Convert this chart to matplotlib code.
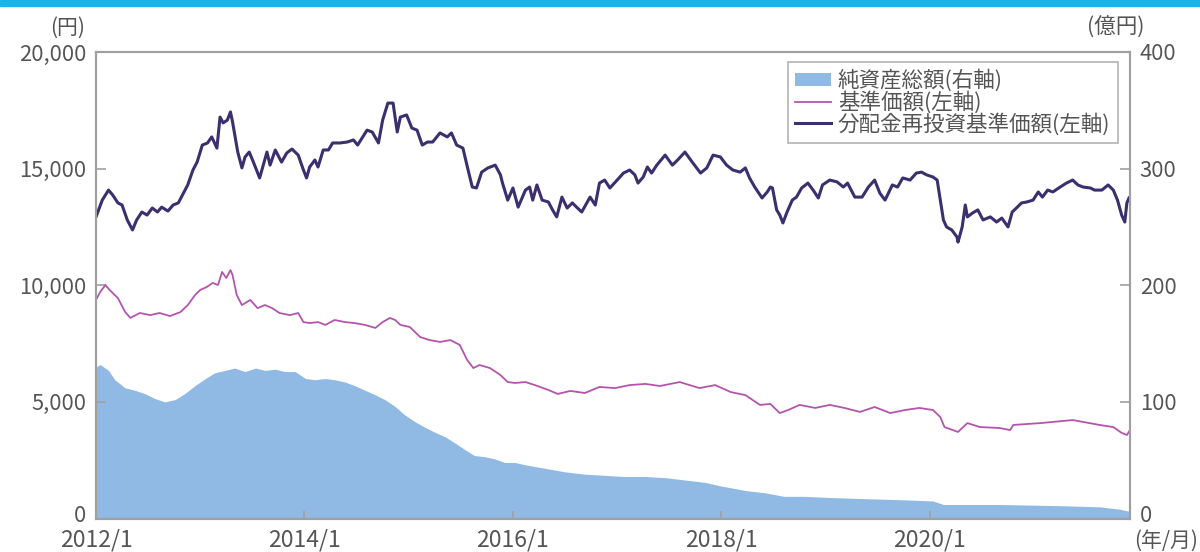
import matplotlib
matplotlib.use('Agg')
import matplotlib.pyplot as plt
from matplotlib.patches import Patch, Rectangle
from matplotlib.lines import Line2D
from matplotlib.ticker import FuncFormatter
from matplotlib.transforms import ScaledTranslation

# ---------------- data ----------------
# 分配金再投資基準価額 (左軸, 円) -- time in decimal years
reinv_t = [2012.00, 2012.06, 2012.12, 2012.16, 2012.21, 2012.25, 2012.30, 2012.35, 2012.39, 2012.44,
           2012.49, 2012.54, 2012.59, 2012.63, 2012.69, 2012.74, 2012.79, 2012.83, 2012.88, 2012.93,
           2012.97, 2013.02, 2013.07, 2013.11, 2013.16, 2013.19, 2013.22, 2013.26, 2013.29, 2013.31,
           2013.36, 2013.40, 2013.43, 2013.47, 2013.51, 2013.57, 2013.60, 2013.64, 2013.67, 2013.72,
           2013.78, 2013.83, 2013.88, 2013.94, 2013.99, 2014.02, 2014.05, 2014.10, 2014.13, 2014.18,
           2014.23, 2014.27, 2014.34, 2014.41, 2014.47, 2014.51, 2014.60, 2014.65, 2014.71, 2014.75,
           2014.80, 2014.85, 2014.89, 2014.92, 2014.98, 2015.03, 2015.08, 2015.13, 2015.18, 2015.23,
           2015.30, 2015.37, 2015.41, 2015.46, 2015.52, 2015.57, 2015.61, 2015.65, 2015.70, 2015.76,
           2015.83, 2015.88, 2015.90, 2015.95, 2016.00, 2016.05, 2016.12, 2016.16, 2016.19, 2016.23,
           2016.28, 2016.34, 2016.38, 2016.42, 2016.47, 2016.52, 2016.57, 2016.61, 2016.66, 2016.74,
           2016.79, 2016.83, 2016.88, 2016.93, 2017.00, 2017.06, 2017.12, 2017.17, 2017.20, 2017.25,
           2017.29, 2017.33, 2017.38, 2017.46, 2017.53, 2017.58, 2017.65, 2017.72, 2017.80, 2017.86,
           2017.92, 2017.99, 2018.05, 2018.11, 2018.18, 2018.23, 2018.27, 2018.32, 2018.39, 2018.44,
           2018.47, 2018.49, 2018.53, 2018.56, 2018.59, 2018.63, 2018.68, 2018.72, 2018.77, 2018.83,
           2018.88, 2018.93, 2018.97, 2019.04, 2019.11, 2019.17, 2019.21, 2019.28, 2019.35, 2019.41,
           2019.47, 2019.52, 2019.57, 2019.64, 2019.69, 2019.74, 2019.81, 2019.87, 2019.92, 2019.97,
           2020.03, 2020.07, 2020.10, 2020.13, 2020.16, 2020.21, 2020.26, 2020.27, 2020.31, 2020.34,
           2020.36, 2020.41, 2020.46, 2020.51, 2020.58, 2020.64, 2020.69, 2020.75, 2020.79, 2020.83,
           2020.88, 2020.93, 2020.99, 2021.04, 2021.08, 2021.13, 2021.18, 2021.25, 2021.31, 2021.37,
           2021.42, 2021.47, 2021.54, 2021.58, 2021.65, 2021.71, 2021.76, 2021.80, 2021.84, 2021.87,
           2021.89, 2021.91]
reinv_v = [12930, 13650, 14080, 13870, 13530, 13440, 12800, 12370, 12800, 13140,
           13010, 13310, 13140, 13350, 13180, 13440, 13530, 13870, 14300, 14940,
           15280, 16010, 16100, 16360, 15880, 17210, 16960, 17080, 17430, 17000,
           15710, 15030, 15500, 15710, 15280, 14600, 15070, 15710, 15150, 15800,
           15280, 15670, 15840, 15580, 14940, 14600, 15070, 15370, 15070, 15800,
           15800, 16100, 16100, 16140, 16230, 16010, 16650, 16570, 16100, 17080,
           17810, 17810, 16570, 17210, 17300, 16740, 16650, 16010, 16140, 16140,
           16530, 16360, 16530, 16010, 15880, 14940, 14210, 14170, 14850, 15030,
           15150, 14730, 14380, 13650, 14170, 13350, 14080, 14210, 13650, 14300,
           13650, 13570, 13230, 12930, 13780, 13310, 13530, 13350, 13140, 13780,
           13440, 14380, 14510, 14170, 14510, 14810, 14940, 14730, 14380, 14640,
           15070, 14810, 15150, 15580, 15150, 15370, 15710, 15280, 14810, 15030,
           15580, 15500, 15150, 14940, 14850, 15030, 14600, 14210, 13740, 14000,
           14210, 14170, 13230, 13010, 12670, 13140, 13650, 13780, 14170, 14380,
           14080, 13740, 14300, 14510, 14430, 14210, 14380, 13780, 13780, 14210,
           14510, 13950, 13650, 14300, 14210, 14600, 14510, 14810, 14850, 14730,
           14640, 14510, 13650, 12800, 12500, 12370, 12070, 11850, 12500, 13440,
           12930, 13100, 13230, 12800, 12930, 12710, 12880, 12500, 13140, 13310,
           13530, 13570, 13650, 14000, 13780, 14080, 14000, 14210, 14380, 14510,
           14300, 14210, 14170, 14080, 14080, 14300, 14080, 13650, 13010, 12710,
           13530, 13740]

# 基準価額 (左軸, 円)
base_t = [2012.00, 2012.04, 2012.09, 2012.13, 2012.21, 2012.28, 2012.33, 2012.42, 2012.52, 2012.61,
          2012.71, 2012.81, 2012.88, 2012.95, 2013.00, 2013.06, 2013.12, 2013.17, 2013.21, 2013.25,
          2013.29, 2013.31, 2013.35, 2013.40, 2013.48, 2013.55, 2013.62, 2013.69, 2013.76, 2013.86,
          2013.94, 2013.99, 2014.05, 2014.13, 2014.20, 2014.29, 2014.39, 2014.48, 2014.58, 2014.68,
          2014.75, 2014.82, 2014.87, 2014.92, 2015.01, 2015.11, 2015.20, 2015.30, 2015.40, 2015.49,
          2015.56, 2015.62, 2015.68, 2015.78, 2015.88, 2015.95, 2016.02, 2016.12, 2016.21, 2016.34,
          2016.43, 2016.55, 2016.69, 2016.83, 2016.98, 2017.12, 2017.27, 2017.41, 2017.60, 2017.79,
          2017.94, 2018.09, 2018.23, 2018.37, 2018.47, 2018.56, 2018.64, 2018.75, 2018.90, 2019.04,
          2019.18, 2019.33, 2019.47, 2019.62, 2019.76, 2019.90, 2020.03, 2020.10, 2020.14, 2020.27,
          2020.36, 2020.48, 2020.67, 2020.77, 2020.80, 2021.06, 2021.37, 2021.63, 2021.76, 2021.84,
          2021.89, 2021.92]
base_v = [9370, 9710, 10010, 9800, 9450, 8850, 8600, 8810, 8720, 8810,
          8680, 8850, 9150, 9580, 9800, 9920, 10100, 10010, 10570, 10310,
          10650, 10440, 9580, 9150, 9370, 9020, 9150, 9020, 8810, 8720,
          8810, 8420, 8380, 8420, 8300, 8510, 8420, 8380, 8300, 8170,
          8420, 8600, 8510, 8300, 8210, 7780, 7650, 7570, 7650, 7440,
          6800, 6450, 6580, 6450, 6150, 5850, 5810, 5850, 5720, 5510,
          5340, 5470, 5380, 5640, 5590, 5720, 5770, 5680, 5850, 5590,
          5720, 5420, 5290, 4870, 4910, 4520, 4650, 4870, 4740, 4870,
          4740, 4570, 4780, 4520, 4650, 4740, 4650, 4350, 3920, 3710,
          4090, 3920, 3880, 3790, 4010, 4090, 4220, 4010, 3920, 3670,
          3580, 3790]

# 純資産総額 (右軸, 億円)
asset_t = [2012.00, 2012.04, 2012.12, 2012.18, 2012.28, 2012.37, 2012.47, 2012.56, 2012.66, 2012.76,
           2012.85, 2012.95, 2013.05, 2013.14, 2013.24, 2013.33, 2013.43, 2013.53, 2013.62, 2013.72,
           2013.81, 2013.91, 2014.01, 2014.10, 2014.20, 2014.29, 2014.39, 2014.48, 2014.58, 2014.68,
           2014.77, 2014.87, 2014.96, 2015.06, 2015.16, 2015.25, 2015.35, 2015.44, 2015.54, 2015.63,
           2015.73, 2015.83, 2015.92, 2016.02, 2016.12, 2016.31, 2016.50, 2016.69, 2016.88, 2017.07,
           2017.27, 2017.46, 2017.65, 2017.84, 2017.99, 2018.23, 2018.42, 2018.60, 2018.80, 2019.04,
           2019.38, 2019.76, 2020.03, 2020.13, 2020.51, 2020.67, 2021.24, 2021.63, 2021.82, 2021.92]
asset_v = [130, 132, 127, 119, 112, 110, 107, 103, 100, 102,
           107, 114, 120, 125, 127, 129, 126, 129, 127, 128,
           126, 126, 120, 119, 120, 119, 117, 114, 110, 106,
           102, 96, 89, 83, 78, 74, 70, 65, 59, 54,
           53, 51, 48, 48, 46, 43, 40, 38, 37, 36,
           36, 35, 33, 31, 28, 24, 22, 19, 19, 18,
           17, 16, 15, 12, 12, 12, 11, 10, 8, 6]

x_ticks = [2012, 2014, 2016, 2018, 2020]
x_labels = ['2012/1', '2014/1', '2016/1', '2018/1', '2020/1']
left_ticks = [0, 5000, 10000, 15000, 20000]
right_ticks = [0, 100, 200, 300, 400]
labels = ['純資産総額(右軸)', '基準価額(左軸)', '分配金再投資基準価額(左軸)']

# ---------------- style ----------------
plt.rcParams['font.family'] = ['Noto Sans CJK JP', 'DejaVu Sans']
TXT = '#555555'
SPINE = '#a0a0a0'
C_AREA = '#90bae3'
C_BASE = '#b455ad'
C_REINV = '#3b2f6e'

W, H = 1200, 552
fig = plt.figure(figsize=(W / 100, H / 100), dpi=100)
fig.patches.append(Rectangle((0, 1 - 6 / H), 1, 6 / H, transform=fig.transFigure,
                             color='#17b6ea', zorder=0))

x0, x1, y_top, y_bot = 96, 1130, 52, 518.5
ax = fig.add_axes([x0 / W, 1 - y_bot / H, (x1 - x0) / W, (y_bot - y_top) / H])
ax2 = ax.twinx()

ax2.fill_between(asset_t, asset_v, 0, color=C_AREA, lw=0)
ax2.set_ylim(0, 400)

ax.set_zorder(ax2.get_zorder() + 1)
ax.patch.set_visible(False)
ax.plot(base_t, base_v, color=C_BASE, lw=1.3)
ax.plot(reinv_t, reinv_v, color=C_REINV, lw=2.2)
ax.set_ylim(0, 20000)
ax.set_xlim(2012.0, 2021.92)

ax.set_xticks(x_ticks)
ax.set_xticklabels(x_labels)
ax.set_yticks(left_ticks)
ax.yaxis.set_major_formatter(FuncFormatter(lambda v, p: f'{int(v):,}'))
ax2.set_yticks(right_ticks)

for a in (ax, ax2):
    for s in a.spines.values():
        s.set_color(SPINE)
        s.set_linewidth(1.5)
ax.tick_params(axis='y', direction='in', length=7, width=1.2, color=SPINE,
               labelsize=15.8, labelcolor=TXT, pad=7)
ax.tick_params(axis='x', direction='in', length=6, width=1.2, color=SPINE,
               labelsize=16.5, labelcolor=TXT, pad=7.5)
ax2.tick_params(axis='y', direction='in', length=7, width=1.2, color=SPINE,
                labelsize=15.8, labelcolor=TXT, pad=7)

# lift the two "0" labels slightly, as in the reference
lift = ScaledTranslation(0, 5 / 100, fig.dpi_scale_trans)
t_left = ax.yaxis.get_major_ticks()[0]
t_left.label1.set_transform(t_left.label1.get_transform() + lift)
t_right = ax2.yaxis.get_major_ticks()[0]
t_right.label2.set_transform(t_right.label2.get_transform() + lift)

fig.text(68 / W, 1 - 28 / H, '(円)', ha='center', va='center', fontsize=15, color=TXT)
fig.text(1116 / W, 1 - 28 / H, '(億円)', ha='center', va='center', fontsize=15.5, color=TXT)
fig.text(1166 / W, 1 - 541 / H, '(年/月)', ha='center', va='center', fontsize=15, color=TXT)

handles = [Patch(facecolor=C_AREA, edgecolor='none'),
           Line2D([], [], color=C_BASE, lw=1.3),
           Line2D([], [], color=C_REINV, lw=2.2)]
leg = ax.legend(handles, labels, loc='upper right',
                bbox_to_anchor=((1118 - x0) / (x1 - x0), (y_bot - 62) / (y_bot - y_top)),
                borderaxespad=0, fancybox=False, frameon=True, fontsize=15.5,
                handlelength=1.65, handleheight=0.6, handletextpad=0.33, labelspacing=-0.05,
                borderpad=0.35, labelcolor=TXT)
leg.get_frame().set_edgecolor(SPINE)
leg.get_frame().set_linewidth(1.2)

fig.savefig('out.png', dpi=100)
